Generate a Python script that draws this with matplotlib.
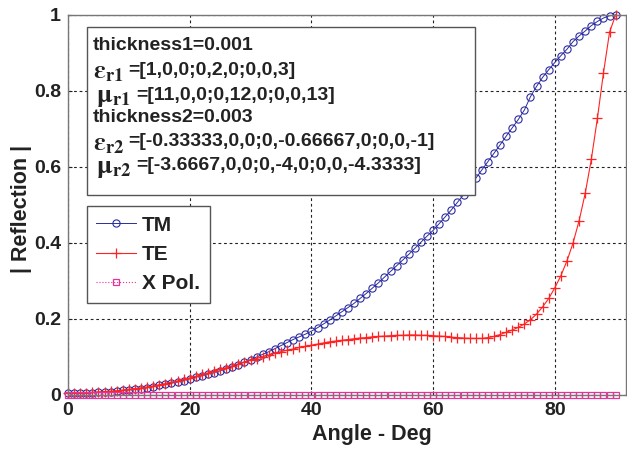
import matplotlib
matplotlib.use("Agg")
import matplotlib.pyplot as plt
from matplotlib.patches import Rectangle

plt.rcParams['font.family'] = ['Liberation Sans', 'DejaVu Sans']
plt.rcParams['font.weight'] = 'bold'
plt.rcParams['axes.labelweight'] = 'bold'
plt.rcParams['mathtext.fontset'] = 'stix'

# incidence angle, 1 degree steps
angle = list(range(0, 91))

tm = [0.005, 0.005, 0.005, 0.006, 0.006, 0.007, 0.008, 0.009, 0.010, 0.012,
      0.013, 0.015, 0.017, 0.019, 0.022, 0.025, 0.028, 0.031, 0.034, 0.038,
      0.043, 0.047, 0.051, 0.055, 0.059, 0.064, 0.069, 0.074, 0.080, 0.087,
      0.093, 0.100, 0.107, 0.114, 0.122, 0.130, 0.138, 0.146, 0.153, 0.160,
      0.168, 0.177, 0.187, 0.197, 0.208, 0.219, 0.230, 0.241, 0.254, 0.267,
      0.281, 0.295, 0.310, 0.325, 0.340, 0.355, 0.370, 0.386, 0.402, 0.418,
      0.433, 0.451, 0.469, 0.487, 0.507, 0.527, 0.548, 0.570, 0.592, 0.614,
      0.636, 0.658, 0.681, 0.703, 0.725, 0.750, 0.785, 0.812, 0.836, 0.856,
      0.875, 0.893, 0.910, 0.930, 0.945, 0.958, 0.972, 0.983, 0.992, 0.998,
      1.000]

te = [0.005, 0.005, 0.005, 0.006, 0.007, 0.008, 0.009, 0.010, 0.011, 0.013,
      0.015, 0.017, 0.019, 0.021, 0.024, 0.027, 0.030, 0.034, 0.037, 0.041,
      0.045, 0.049, 0.054, 0.058, 0.063, 0.068, 0.072, 0.077, 0.082, 0.087,
      0.092, 0.096, 0.101, 0.105, 0.110, 0.114, 0.118, 0.121, 0.125, 0.128,
      0.131, 0.134, 0.137, 0.140, 0.142, 0.144, 0.146, 0.148, 0.150, 0.151,
      0.153, 0.154, 0.155, 0.156, 0.157, 0.157, 0.158, 0.158, 0.157, 0.157,
      0.156, 0.155, 0.154, 0.152, 0.151, 0.150, 0.149, 0.149, 0.149, 0.151,
      0.154, 0.159, 0.165, 0.171, 0.178, 0.187, 0.198, 0.213, 0.232, 0.254,
      0.282, 0.314, 0.353, 0.400, 0.459, 0.531, 0.620, 0.728, 0.848, 0.955,
      1.000]

xpol = [0.0] * 91

xticks = [0, 20, 40, 60, 80]
yticks = [0, 0.2, 0.4, 0.6, 0.8, 1]
ytick_labels = ['0', '0.2', '0.4', '0.6', '0.8', '1']

# layer parameters: symbol part (empty for plain lines) and value part
info_symbols = ['', r'$\mathrm{\varepsilon}_{\mathrm{r1}}$', r'$\mathrm{\mu}_{\mathrm{r1}}$',
                '', r'$\mathrm{\varepsilon}_{\mathrm{r2}}$', r'$\mathrm{\mu}_{\mathrm{r2}}$']
info_values = ['thickness1=0.001',
               '=[1,0,0;0,2,0;0,0,3]',
               '=[11,0,0;0,12,0;0,0,13]',
               'thickness2=0.003',
               '=[-0.33333,0,0;0,-0.66667,0;0,0,-1]',
               '=[-3.6667,0,0;0,-4,0;0,0,-4.3333]']

fig = plt.figure(figsize=(6.27, 4.49), dpi=100)
ax = fig.add_axes([0.1085, 0.1203, 0.8899, 0.8463])

ax.plot(angle, tm, color='#2c2ca0', lw=0.7, marker='o', ms=5.2,
        mfc='none', mec='#2c2ca0', mew=0.8, label='TM', clip_on=False)
ax.plot(angle, te, color='#ff2222', lw=0.8, marker='+', ms=7,
        mew=0.9, label='TE', clip_on=False)
ax.plot(angle, xpol, color='#e6339a', lw=0.8, ls=':', marker='s', ms=4.8,
        mfc='none', mec='#e6339a', mew=0.9, label='X Pol.', clip_on=False)

ax.set_xlim(0, 91.7)
ax.set_ylim(0, 1)
ax.set_xticks(xticks)
ax.set_yticks(yticks)
ax.set_yticklabels(ytick_labels)
ax.tick_params(direction='in', length=3, labelsize=14, pad=5, colors='#222222')
ax.grid(True, color='#222222', ls=(0, (2.5, 2.5)), lw=0.8)
for s in ax.spines.values():
    s.set_color('#777777')
    s.set_linewidth(1.0)

ax.set_xlabel('Angle - Deg', fontsize=15.5, color='#222222')
ax.set_ylabel('| Reflection |', fontsize=15.5, color='#222222')
ax.xaxis.set_label_coords(0.545, -0.076)
ax.yaxis.set_label_coords(-0.064, 0.49)

# parameter box
ax.add_patch(Rectangle((0.034, 0.526), 0.695, 0.442, transform=ax.transAxes,
                       facecolor='white', edgecolor='#555555', lw=1.0, zorder=5))
ypos = [0.921, 0.855, 0.789, 0.729, 0.666, 0.603]
for sym, val, yy in zip(info_symbols, info_values, ypos):
    if sym:
        is_mu = 'mu' in sym
        ax.text(0.050 if is_mu else 0.045, yy - 0.006, sym, transform=ax.transAxes,
                fontsize=19, va='center', ha='left', color='#222222', zorder=6)
        ax.text(0.122 if is_mu else 0.1075, yy, val, transform=ax.transAxes,
                fontsize=14, va='center', ha='left', color='#222222', zorder=6)
    else:
        ax.text(0.045, yy, val, transform=ax.transAxes, fontsize=14,
                va='center', ha='left', color='#222222', zorder=6)

leg = ax.legend(loc='upper left', bbox_to_anchor=(0.034, 0.497), fontsize=15,
                numpoints=1, handlelength=1.9, handletextpad=0.3,
                labelspacing=0.5, borderpad=0.45, borderaxespad=0,
                fancybox=False, framealpha=1, edgecolor='#555555')
leg.get_frame().set_linewidth(1.0)
for t in leg.get_texts():
    t.set_color('#222222')

fig.savefig('out.png', dpi=100)
